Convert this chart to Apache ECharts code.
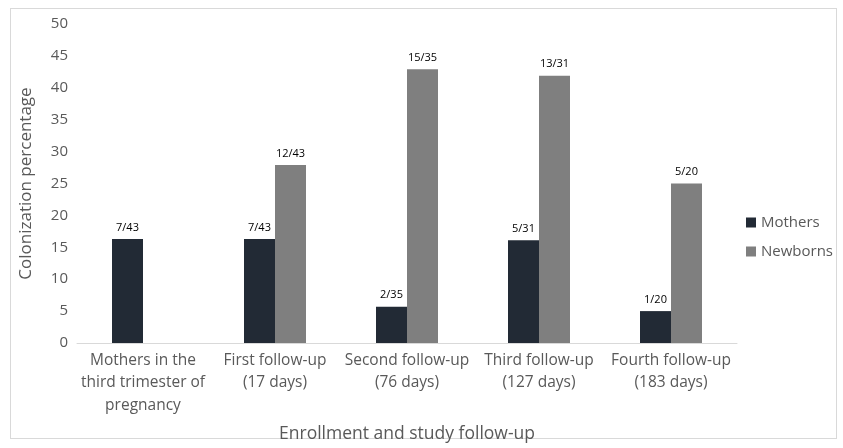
<!DOCTYPE html>
<html>
<head>
<meta charset="utf-8">
<script src="https://cdn.jsdelivr.net/npm/echarts@6/dist/echarts.min.js"></script>
<style>
  html, body { margin: 0; padding: 0; background: #fff; }
  #frame { position: absolute; left: 10px; top: 8px; width: 827px; height: 431px; border: 1px solid #d9d9d9; box-sizing: border-box; }
  #chart { width: 843px; height: 448px; }
</style>
</head>
<body>
<div id="frame"></div>
<div id="chart"></div>
<script>
const categories = [
  "Mothers in the\nthird trimester of\npregnancy",
  "First follow-up\n(17 days)",
  "Second follow-up\n(76 days)",
  "Third follow-up\n(127 days)",
  "Fourth follow-up\n(183 days)",
];
const mothers = [16.3, 16.3, 5.7, 16.1, 5.0];
const newborns = [null, 27.9, 42.9, 41.9, 25.0];
const mothersLabels = ["7/43", "7/43", "2/35", "5/31", "1/20"];
const newbornsLabels = ["", "12/43", "15/35", "13/31", "5/20"];
const yTicks = { min: 0, max: 50, interval: 5 };

const font = "'Open Sans', sans-serif";

const chart = echarts.init(document.getElementById("chart"));

chart.setOption({
  animation: false,
  textStyle: { fontFamily: font },
  grid: { left: 77, right: 106, top: 24, bottom: 104 },
  legend: {
    orient: "vertical",
    left: 741,
    top: 210,
    itemWidth: 10,
    itemHeight: 10,
    itemGap: 14,
    icon: "rect",
    textStyle: { color: "#595959", fontSize: 15, fontFamily: font },
    data: ["Mothers", "Newborns"],
  },
  xAxis: {
    type: "category",
    data: categories,
    name: "Enrollment and study follow-up",
    nameLocation: "middle",
    nameGap: 82,
    nameTextStyle: { color: "#595959", fontSize: 17.5, fontFamily: font },
    axisLine: { lineStyle: { color: "#d9d9d9", width: 1 } },
    axisTick: { show: false },
    axisLabel: { color: "#595959", fontSize: 15.5, lineHeight: 22.5, margin: 6, interval: 0, fontFamily: font },
  },
  yAxis: {
    type: "value",
    min: yTicks.min,
    max: yTicks.max,
    interval: yTicks.interval,
    name: "Colonization percentage",
    nameLocation: "middle",
    nameGap: 42,
    nameTextStyle: { color: "#595959", fontSize: 17, fontFamily: font },
    axisLine: { show: false },
    axisTick: { show: false },
    splitLine: { show: false },
    axisLabel: { color: "#595959", fontSize: 15, margin: 9, fontFamily: font },
  },
  series: [
    {
      name: "Mothers",
      type: "bar",
      data: mothers,
      barWidth: 31,
      barGap: "0%",
      itemStyle: { color: "#222a35" },
      label: {
        show: true,
        position: "top",
        distance: 6,
        color: "#000",
        fontSize: 11,
        fontFamily: font,
        formatter: (p) => mothersLabels[p.dataIndex],
      },
    },
    {
      name: "Newborns",
      type: "bar",
      data: newborns,
      barWidth: 31,
      barGap: "0%",
      itemStyle: { color: "#7f7f7f" },
      label: {
        show: true,
        position: "top",
        distance: 6,
        color: "#000",
        fontSize: 11,
        fontFamily: font,
        formatter: (p) => newbornsLabels[p.dataIndex],
      },
    },
  ],
});
</script>
</body>
</html>
